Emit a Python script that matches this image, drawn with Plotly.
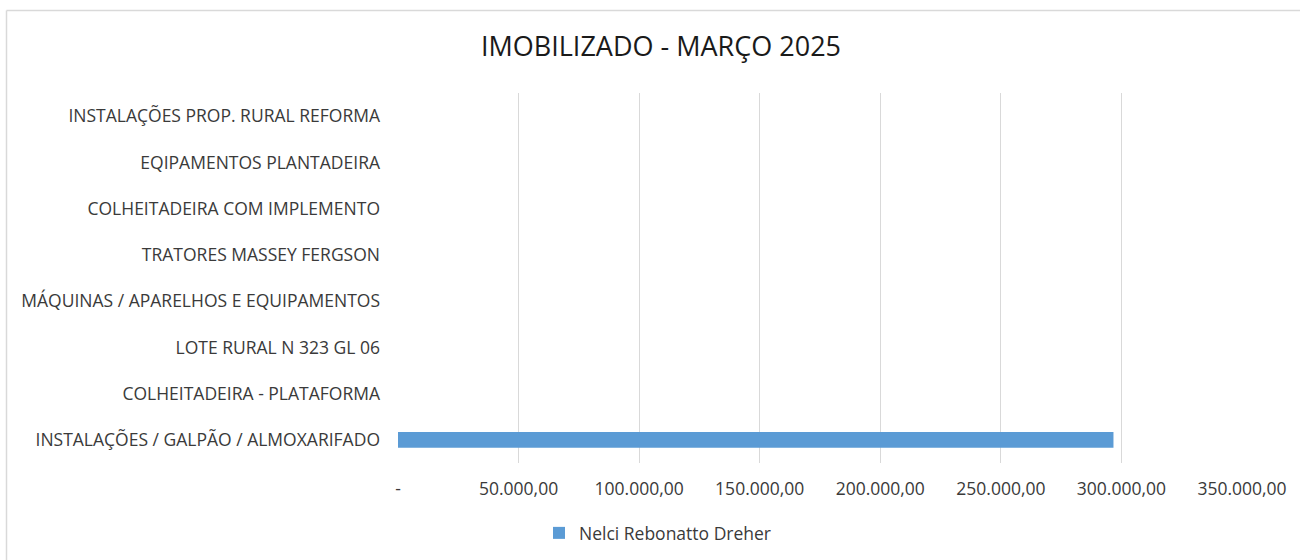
import plotly.graph_objects as go

categories = [
    "INSTALAÇÕES / GALPÃO / ALMOXARIFADO",
    "COLHEITADEIRA - PLATAFORMA",
    "LOTE RURAL N 323 GL 06",
    "MÁQUINAS / APARELHOS E EQUIPAMENTOS",
    "TRATORES MASSEY FERGSON",
    "COLHEITADEIRA COM IMPLEMENTO",
    "EQIPAMENTOS PLANTADEIRA",
    "INSTALAÇÕES PROP. RURAL REFORMA",
]
values = [296700, 0, 0, 0, 0, 0, 0, 0]
series_name = "Nelci Rebonatto Dreher"
tick_values = [0, 50000, 100000, 150000, 200000, 250000, 300000, 350000]
tick_labels = ["-", "50.000,00", "100.000,00", "150.000,00", "200.000,00",
               "250.000,00", "300.000,00", "350.000,00"]

W, H = 1300, 560
ml, mr, mt, mb = 398, 58, 93, 97
pw = W - ml - mr
ph = H - mt - mb

font_family = "Open Sans"
txt = "#3a3a3a"

fig = go.Figure()
fig.add_trace(go.Bar(
    y=categories, x=values, orientation="h", name=series_name,
    marker=dict(color="#5B9BD5", line=dict(width=0)),
    showlegend=True,
))

fig.update_layout(
    width=W, height=H,
    margin=dict(l=ml, r=mr, t=mt, b=mb, autoexpand=False),
    paper_bgcolor="white", plot_bgcolor="white",
    bargap=0.655,
    title=dict(text="IMOBILIZADO - MARÇO 2025", x=661 / W, xanchor="center",
               y=1 - 47 / H, yanchor="middle",
               font=dict(family=font_family, size=27, color="#1a1a1a")),
    font=dict(family=font_family, size=16, color=txt),
    xaxis=dict(range=[0, 350000], tickvals=tick_values, ticktext=tick_labels,
               showgrid=True, gridcolor="#d9d9d9", gridwidth=1,
               zeroline=False, showline=False, ticks="",
               ticklabelstandoff=13, fixedrange=True, automargin=False,
               tickfont=dict(family=font_family, size=17.5, color=txt)),
    yaxis=dict(type="category", categoryorder="array", categoryarray=categories,
               showgrid=False, zeroline=False, showline=False, ticks="",
               ticklabelstandoff=17, fixedrange=True, automargin=False,
               tickfont=dict(family=font_family, size=17.5, color=txt)),
    legend=dict(orientation="h", xref="container", yref="container",
                x=658 / W, xanchor="center",
                y=1 - 533 / H, yanchor="middle",
                font=dict(family=font_family, size=17.5, color=txt),
                itemwidth=30, tracegroupgap=0),
    shapes=[
        dict(type="line", xref="paper", yref="paper",
             x0=-(ml - 6.5) / pw, x1=(W - ml) / pw,
             y0=1 + (mt - 10.5) / ph, y1=1 + (mt - 10.5) / ph,
             line=dict(color="#d9d9d9", width=1.5)),
        dict(type="line", xref="paper", yref="paper",
             x0=-(ml - 6.5) / pw, x1=-(ml - 6.5) / pw,
             y0=1 + (mt - 10.5) / ph, y1=-(H - mt - ph) / ph,
             line=dict(color="#d9d9d9", width=1.5)),
    ],
)

fig.write_html("out.html", config={"displayModeBar": False},
               post_script="document.body.style.margin='0';document.body.style.overflow='hidden';")
